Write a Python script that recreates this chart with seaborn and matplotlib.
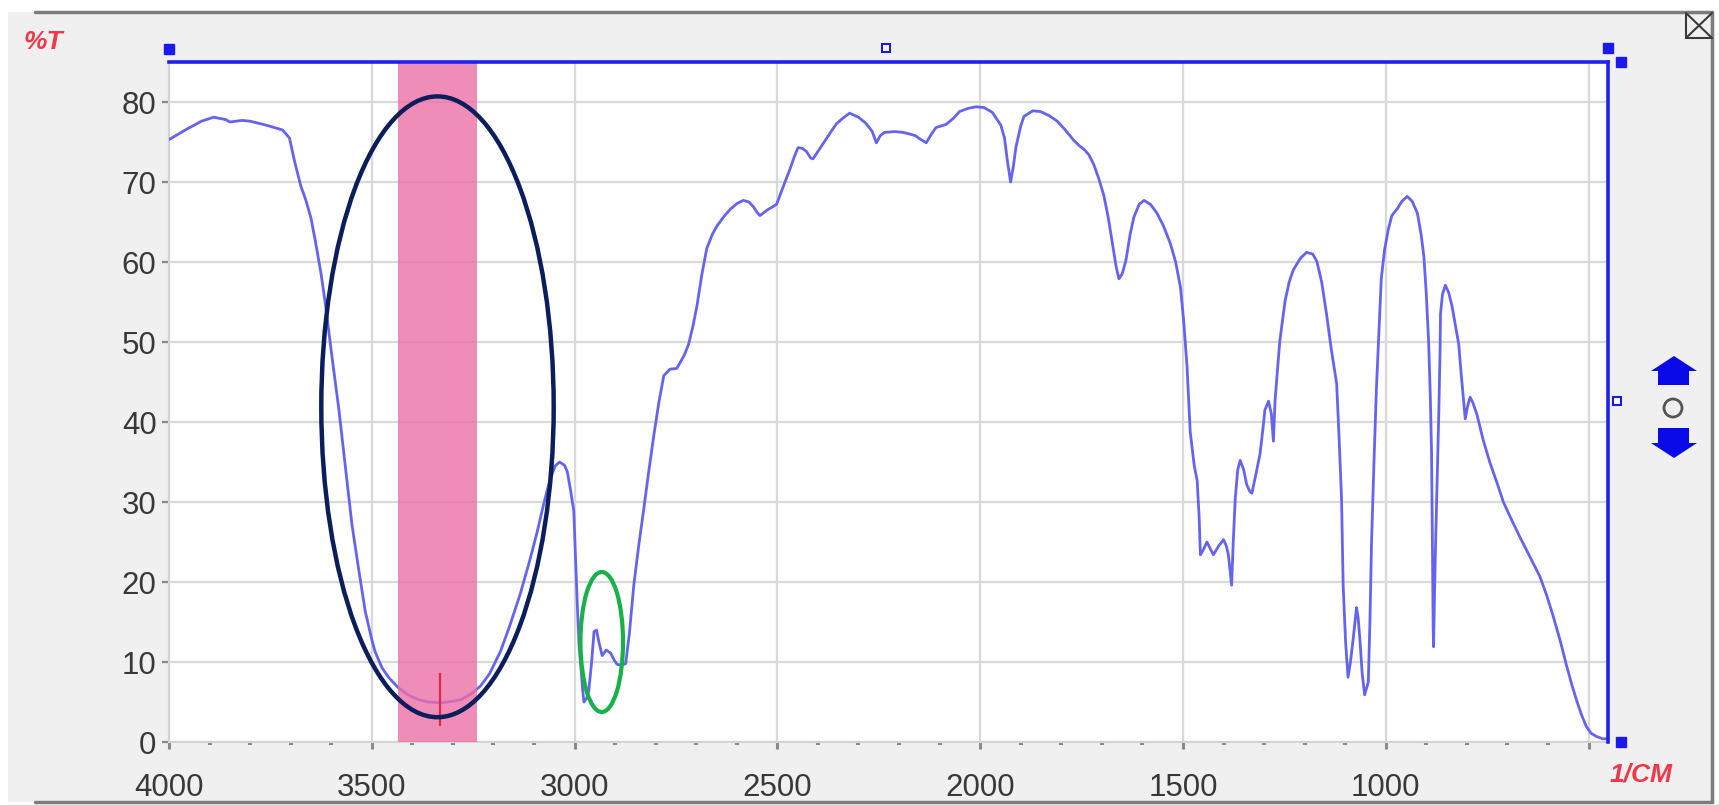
import matplotlib
matplotlib.use("Agg")
import matplotlib.pyplot as plt
from matplotlib.patches import Ellipse, Polygon, Rectangle
from matplotlib.lines import Line2D
from matplotlib.ticker import MultipleLocator
import pandas as pd
import seaborn as sns

sns.set_style("white")
plt.rcParams["font.family"] = ["Liberation Sans", "DejaVu Sans"]

# ---------------------------------------------------------------
# data read off the FTIR screen capture
# ---------------------------------------------------------------
wavenumber = [
    4000, 3960, 3920, 3890, 3860, 3850, 3820, 3800, 3760, 3720, 3703, 3690, 3675, 3663,
    3650, 3638, 3625, 3614, 3598, 3581, 3565, 3549, 3533, 3516, 3500, 3492, 3475, 3459,
    3435, 3411, 3385, 3362, 3330, 3300, 3280, 3255, 3232, 3210, 3183, 3160, 3134, 3110,
    3093, 3075, 3061, 3048, 3037, 3025, 3018, 3010, 3002, 2997, 2993, 2989, 2985, 2980,
    2977, 2970, 2965, 2958, 2952, 2946, 2940, 2932, 2922, 2911, 2902, 2895, 2884, 2874,
    2865, 2854, 2842, 2830, 2818, 2805, 2792, 2780, 2765, 2748, 2730, 2719, 2708, 2698,
    2686, 2674, 2660, 2649, 2630, 2616, 2600, 2584, 2570, 2559, 2550, 2543, 2525, 2502,
    2485, 2469, 2458, 2449, 2438, 2428, 2418, 2412, 2395, 2379, 2365, 2354, 2338, 2322,
    2300, 2281, 2266, 2256, 2246, 2236, 2210, 2190, 2174, 2160, 2149, 2133, 2120, 2109,
    2084, 2065, 2051, 2030, 2010, 1990, 1970, 1949, 1940, 1933, 1925, 1918, 1912, 1900,
    1892, 1870, 1851, 1830, 1810, 1790, 1769, 1755, 1744, 1732, 1720, 1708, 1695, 1684,
    1674, 1665, 1658, 1650, 1641, 1630, 1621, 1608, 1596, 1580, 1564, 1548, 1531, 1518,
    1506, 1498, 1490, 1482, 1472, 1465, 1460, 1457, 1450, 1441, 1433, 1425, 1412, 1400,
    1393, 1388, 1384, 1380, 1376, 1371, 1365, 1359, 1350, 1343, 1335, 1330, 1320, 1310,
    1302, 1298, 1289, 1282, 1277, 1275, 1273, 1267, 1261, 1248, 1238, 1228, 1210, 1195,
    1180, 1170, 1158, 1146, 1134, 1121, 1115, 1109, 1105, 1099, 1093, 1087, 1080, 1072,
    1068, 1064, 1058, 1052, 1047, 1043, 1039, 1035, 1029, 1023, 1017, 1011, 1003, 994,
    985, 971, 960, 947, 935, 922, 913, 906, 900, 894, 890, 887, 885, 883,
    882, 880, 877, 873, 869, 866, 865, 860, 853, 845, 837, 828, 820, 814,
    808, 804, 798, 792, 785, 775, 760, 743, 725, 710, 690, 669, 645, 620,
    603, 587, 570, 555, 542, 530, 518, 506, 494, 481, 465, 455,
]
transmittance = [
    75.3, 76.5, 77.6, 78.1, 77.8, 77.5, 77.7, 77.6, 77.1, 76.5, 75.5, 72.5, 69.5, 67.8,
    65.5, 62.3, 58.5, 54.6, 48.1, 41.5, 34.4, 27.2, 21.8, 16.3, 12.8, 11.3, 9.3, 8.1,
    6.8, 5.9, 5.3, 5.0, 4.9, 5.1, 5.3, 6.0, 7.0, 8.5, 11.3, 14.5, 18.5, 22.8,
    26.1, 30.0, 32.7, 34.5, 35.0, 34.6, 33.8, 31.5, 28.9, 22.0, 16.8, 12.0, 9.7, 6.5,
    5.0, 5.5, 6.4, 10.0, 13.8, 14.0, 12.5, 10.8, 11.5, 11.1, 10.2, 9.7, 9.6, 9.8,
    13.5, 19.6, 24.5, 28.9, 33.5, 38.2, 42.5, 45.8, 46.6, 46.7, 48.3, 49.7, 52.0, 54.6,
    58.5, 61.7, 63.5, 64.5, 65.8, 66.6, 67.3, 67.7, 67.5, 66.9, 66.2, 65.8, 66.5, 67.2,
    69.5, 71.6, 73.2, 74.3, 74.2, 73.8, 73.0, 72.9, 74.2, 75.4, 76.5, 77.3, 78.0, 78.6,
    78.1, 77.3, 76.3, 74.9, 75.8, 76.2, 76.3, 76.2, 76.0, 75.8, 75.4, 74.9, 76.0, 76.8,
    77.2, 78.0, 78.8, 79.2, 79.4, 79.3, 78.7, 77.1, 75.5, 72.7, 70.0, 72.0, 74.3, 77.0,
    78.2, 78.9, 78.8, 78.3, 77.6, 76.5, 75.2, 74.5, 74.1, 73.4, 72.2, 70.5, 68.3, 65.5,
    62.3, 59.5, 57.9, 58.5, 60.1, 63.5, 65.6, 67.2, 67.7, 67.2, 66.1, 64.5, 62.3, 60.0,
    56.8, 52.5, 47.0, 38.7, 34.5, 32.7, 28.0, 23.4, 24.0, 25.0, 24.2, 23.4, 24.5, 25.3,
    24.5, 23.4, 21.5, 19.6, 25.0, 30.5, 34.0, 35.2, 34.0, 32.2, 31.3, 31.1, 33.5, 36.0,
    39.5, 41.5, 42.6, 41.0, 37.6, 40.0, 42.6, 46.5, 50.2, 55.2, 57.5, 59.0, 60.5, 61.2,
    61.0, 60.1, 57.5, 53.5, 49.0, 44.8, 38.0, 30.5, 19.6, 12.5, 8.1, 10.0, 13.0, 16.8,
    15.5, 13.0, 8.5, 5.9, 6.8, 7.5, 15.0, 25.0, 35.0, 44.2, 51.0, 57.9, 61.5, 64.0,
    65.8, 66.7, 67.6, 68.2, 67.6, 66.1, 63.5, 60.7, 56.0, 49.7, 43.0, 36.0, 25.0, 14.1,
    11.9, 18.0, 25.0, 33.0, 41.5, 49.0, 53.5, 56.0, 57.1, 56.2, 54.6, 52.0, 49.7, 46.0,
    42.6, 40.4, 42.0, 43.1, 42.4, 40.9, 37.8, 34.9, 32.3, 30.0, 27.8, 25.6, 23.2, 20.7,
    18.3, 15.7, 12.7, 9.7, 7.3, 5.3, 3.5, 2.0, 1.1, 0.7, 0.4, 0.4,
]

x_ticks = [4000, 3500, 3000, 2500, 2000, 1500, 1000, 500]
x_labels = ["4000", "3500", "3000", "2500", "2000", "1500", "1000", ""]
y_ticks = [0, 10, 20, 30, 40, 50, 60, 70, 80]

band_range = (3435, 3241)      # highlighted O-H region
band_marker = (3331, 2.0, 8.6)  # red peak tick: x, y from, y to
oh_ring = (3338, 41.9, 573, 77.6)    # centre x, centre y, width, height
ch_ring = (2933, 12.5, 105, 17.5)

spectrum = pd.DataFrame({"wavenumber": wavenumber, "T": transmittance})

# ---------------------------------------------------------------
# figure: screen-capture look (grey panel, blue range selector)
# ---------------------------------------------------------------
W, H = 1719, 805
fig = plt.figure(figsize=(W / 100, H / 100), dpi=100)
fig.patch.set_facecolor("white")


def fx(px):
    return px / W


def fy(px):
    return 1 - px / H


fig.patches.append(Rectangle((fx(8), fy(802)), fx(1712) - fx(8), fy(12) - fy(802),
                             transform=fig.transFigure, facecolor="#f0f0f0",
                             edgecolor="none", zorder=-10))
for xs, ys in [((35, 1712), (12, 12)), ((1712, 1712), (12, 802)), ((35, 1712), (802, 802))]:
    fig.lines.append(Line2D([fx(v) for v in xs], [fy(v) for v in ys],
                            transform=fig.transFigure, color="#7c7c7c", lw=2.5))

ax = fig.add_axes([fx(169), fy(742), fx(1608) - fx(169), fy(62) - fy(742)])
ax.set_facecolor("white")

sns.lineplot(data=spectrum, x="wavenumber", y="T", sort=False, estimator=None,
             color="#6464ee", lw=2.0, ax=ax, zorder=3)

ax.axvspan(*band_range, color="#ec6fa7", alpha=0.8, lw=0, zorder=4)
ax.vlines(band_marker[0], band_marker[1], band_marker[2], color="#e02848", lw=1.6, zorder=5)

ax.add_patch(Ellipse(oh_ring[:2], oh_ring[2], oh_ring[3], fill=False,
                     edgecolor="#0b1d5a", lw=3.2, zorder=6))
ax.add_patch(Ellipse(ch_ring[:2], ch_ring[2], ch_ring[3], fill=False,
                     edgecolor="#17b14a", lw=3.0, zorder=6))

ax.set_xlim(4000, 452)
ax.set_ylim(0, 85)
ax.set_xticks(x_ticks)
ax.set_xticklabels(x_labels)
ax.set_yticks(y_ticks)
ax.xaxis.set_minor_locator(MultipleLocator(100))
ax.grid(True, which="major", color="#d9d9d9", lw=1.6, zorder=0)
ax.set_axisbelow(True)
ax.set_xlabel("")
ax.set_ylabel("")

ax.tick_params(which="both", bottom=True, left=True)
ax.tick_params(axis="x", which="major", length=5, width=2.2, color="#8a8a8a",
               labelsize=22.5, labelcolor="#383838", pad=17)
ax.tick_params(axis="x", which="minor", length=2.5, width=3, color="#8a8a8a")
ax.tick_params(axis="y", which="major", length=5, width=1.6, color="#8a8a8a",
               labelsize=22.5, labelcolor="#383838", pad=4)

for side in ["left", "bottom"]:
    ax.spines[side].set_color("#d4d4d4")
    ax.spines[side].set_linewidth(1.5)
for side in ["top", "right"]:
    ax.spines[side].set_color("#2020ee")
    ax.spines[side].set_linewidth(2.6)
    ax.spines[side].set_zorder(7)

# range-selector handles
sel = dict(transform=ax.transAxes, clip_on=False, zorder=8, ls="none")
ax.plot([0, 1.0, 1.009, 1.009], [1.019, 1.02, 1.0, 0.0], marker="s", ms=7,
        color="#1a1aee", **sel)
ax.plot([0.498, 1.006], [1.021, 0.501], marker="s", ms=6, mfc="white",
        mec="#1a1aee", mew=1.5, **sel)

# up / down arrows and reset circle at the right
fig.patches.append(Polygon([(fx(x), fy(y)) for x, y in
                            [(1674, 356), (1697, 371), (1689, 371), (1689, 385),
                             (1658, 385), (1658, 371), (1651, 371)]],
                           transform=fig.transFigure, facecolor="#0a0ae8", edgecolor="none"))
fig.patches.append(Polygon([(fx(x), fy(y)) for x, y in
                            [(1658, 428), (1689, 428), (1689, 443), (1697, 443),
                             (1674, 458), (1651, 443), (1658, 443)]],
                           transform=fig.transFigure, facecolor="#0a0ae8", edgecolor="none"))
fig.patches.append(Ellipse((fx(1673), fy(408)), 18 / W, 18 / H, transform=fig.transFigure,
                           fill=False, edgecolor="#555555", lw=2))

# close box
fig.patches.append(Rectangle((fx(1686), fy(38)), 26 / W, 25 / H, transform=fig.transFigure,
                             fill=False, edgecolor="#3a3a3a", lw=1.5))
for xs, ys in [((1686, 1712), (13, 38)), ((1686, 1712), (38, 13))]:
    fig.lines.append(Line2D([fx(v) for v in xs], [fy(v) for v in ys],
                            transform=fig.transFigure, color="#3a3a3a", lw=1.5))

fig.text(fx(43), fy(42), "%T", color="#f03848", fontsize=19, fontweight="bold",
         fontstyle="italic", ha="center", va="center")
fig.text(fx(1641), fy(774), "1/CM", color="#f03848", fontsize=19, fontweight="bold",
         fontstyle="italic", ha="center", va="center")

fig.savefig("out.png", dpi=100)
